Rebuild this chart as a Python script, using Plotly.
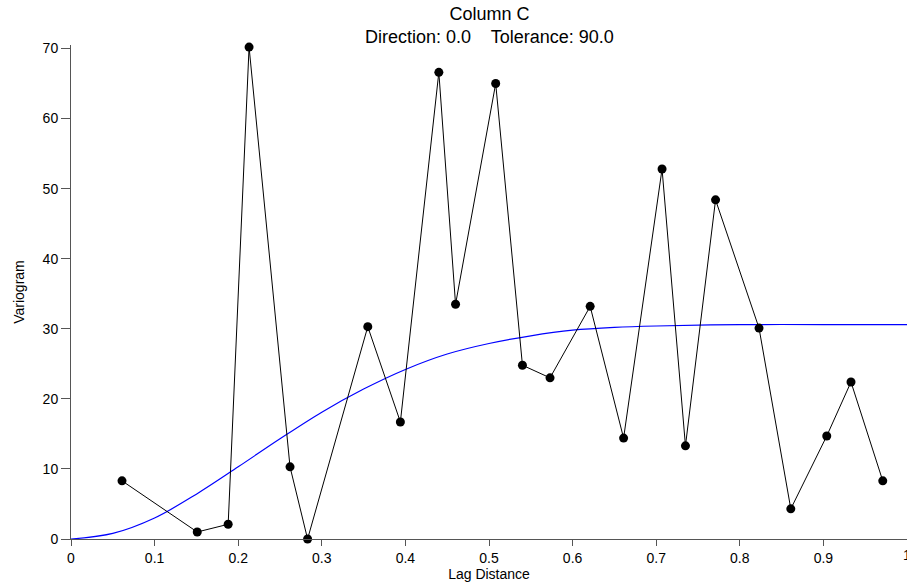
import plotly.graph_objects as go

# Experimental variogram points
lag = [0.061, 0.151, 0.188, 0.213, 0.262, 0.283, 0.355, 0.394, 0.440, 0.460,
       0.508, 0.540, 0.573, 0.621, 0.661, 0.707, 0.735, 0.771, 0.823, 0.861,
       0.904, 0.933, 0.971]
gamma = [8.3, 1.0, 2.1, 70.2, 10.3, 0.0, 30.3, 16.7, 66.6, 33.5,
         65.0, 24.8, 23.0, 33.2, 14.4, 52.8, 13.3, 48.4, 30.1, 4.3,
         14.7, 22.4, 8.3]

# Model curve values
model_x = [0.0, 0.05, 0.1, 0.15, 0.2, 0.25, 0.3, 0.35, 0.4, 0.45, 0.5,
           0.55, 0.6, 0.65, 0.7, 0.8, 0.9, 1.0]
model_y = [0.0, 0.8, 3.0, 6.4, 10.3, 14.3, 18.1, 21.4, 24.2, 26.4, 27.9,
           29.0, 29.8, 30.2, 30.4, 30.6, 30.6, 30.6]

x_ticks = [0, 0.1, 0.2, 0.3, 0.4, 0.5, 0.6, 0.7, 0.8, 0.9, 1]
x_tick_text = ["0", "0.1", "0.2", "0.3", "0.4", "0.5", "0.6", "0.7", "0.8", "0.9", "1"]
y_ticks = [0, 10, 20, 30, 40, 50, 60, 70]

title_lines = ["Column C", "Direction: 0.0    Tolerance: 90.0"]

fig = go.Figure()
fig.add_trace(go.Scatter(x=model_x, y=model_y, mode="lines",
                         line=dict(color="#0000ff", width=1.2, shape="spline"),
                         hoverinfo="skip"))
fig.add_trace(go.Scatter(x=lag, y=gamma, mode="lines+markers",
                         line=dict(color="black", width=1),
                         marker=dict(color="black", size=9, symbol="circle"),
                         cliponaxis=False))

font_main = "Liberation Sans, Arial, sans-serif"
fig.update_layout(
    width=907, height=582,
    margin=dict(l=71, r=0, t=45, b=43),
    paper_bgcolor="white", plot_bgcolor="white",
    showlegend=False,
    font=dict(family=font_main, color="black", size=14),
    xaxis=dict(range=[0, 1], tickvals=x_ticks, ticktext=x_tick_text,
               showgrid=False, zeroline=False, showline=True,
               linecolor="#555555", linewidth=1,
               ticks="outside", ticklen=6, tickcolor="#555555",
               tickfont=dict(size=14, family=font_main),
               title=dict(text="Lag Distance", font=dict(size=14), standoff=1)),
    yaxis=dict(range=[0, 70.5], tickvals=y_ticks,
               showgrid=False, zeroline=False, showline=True,
               linecolor="#555555", linewidth=1,
               ticks="outside", ticklen=9, tickcolor="#555555",
               tickfont=dict(size=14, family=font_main),
               title=dict(text="Variogram",
                          font=dict(size=14, family="Liberation Sans Narrow, Arial Narrow, sans-serif"),
                          standoff=14)),
)
fig.add_annotation(text="<br>".join(title_lines), xref="paper", yref="paper",
                   x=0.5, y=1, yshift=20, xanchor="center", yanchor="middle",
                   showarrow=False, align="center",
                   font=dict(size=18, family=font_main))
# right-most tick label, partly cut by the page edge as in the reference
fig.add_annotation(text=x_tick_text[-1], xref="x", yref="paper", x=x_ticks[-1], y=0,
                   yshift=-16, xanchor="center", yanchor="middle", showarrow=False,
                   font=dict(size=14, family=font_main))

fig.write_html("out.html")
